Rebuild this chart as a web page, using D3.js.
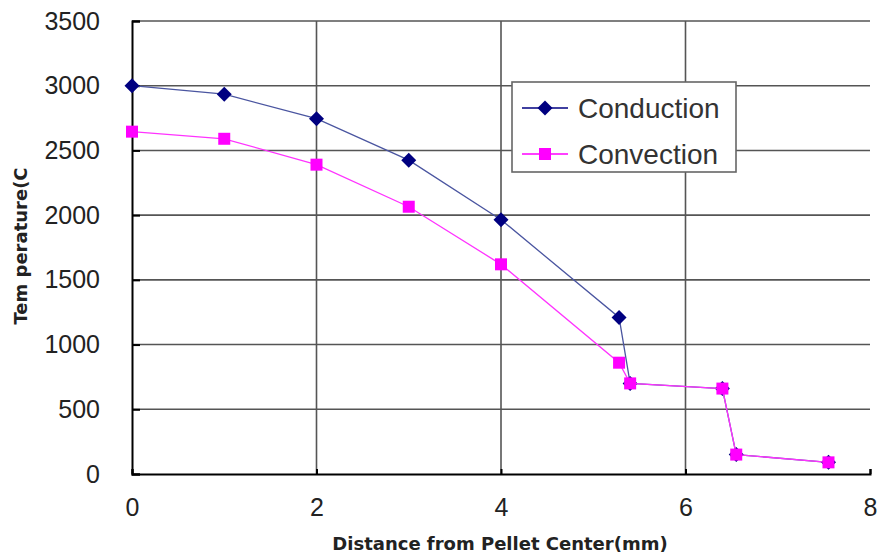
<!DOCTYPE html>
<html>
<head>
<meta charset="utf-8">
<script src="https://cdn.jsdelivr.net/npm/d3@7"></script>
<style>
  body { margin: 0; background: #fff; }
  svg { display: block; }
  .tick text { font-family: "Liberation Sans", Arial, sans-serif; font-size: 25px; fill: #222; }
  .title { font-family: "DejaVu Sans", sans-serif; font-weight: bold; font-size: 18px; fill: #222; }
  .legend text { font-family: "Liberation Sans", Arial, sans-serif; font-size: 28px; fill: #333; }
</style>
</head>
<body>
<svg id="chart" width="880" height="555"></svg>
<script>
// distances (mm)
var distance = [0, 1, 2, 3, 4, 5.28, 5.4, 6.4, 6.55, 7.55];
// temperatures
var conduction = [3000, 2935, 2745, 2425, 1965, 1210, 700, 660, 150, 90];
var convection = [2645, 2590, 2390, 2065, 1620, 860, 700, 660, 150, 90];
var seriesNames = ["Conduction", "Convection"];
var xTicks = [0, 2, 4, 6, 8];
var yTicks = [0, 500, 1000, 1500, 2000, 2500, 3000, 3500];

var margin = {top: 21, right: 10, bottom: 81, left: 132};
var width = 880 - margin.left - margin.right;
var height = 555 - margin.top - margin.bottom;

var svg = d3.select("#chart");
svg.append("rect").attr("width", 880).attr("height", 555).attr("fill", "#fff");

var g = svg.append("g")
    .attr("transform", "translate(" + margin.left + "," + margin.top + ")");

var x = d3.scaleLinear().domain([0, 8]).range([0, width]);
var y = d3.scaleLinear().domain([0, 3500]).range([height, 0]);

//grid lines
g.selectAll(".hgrid")
    .data(yTicks.filter(function(d) { return d > 0; }))
    .enter().append("line")
    .attr("x1", 0).attr("x2", width)
    .attr("y1", function(d) { return y(d); })
    .attr("y2", function(d) { return y(d); })
    .attr("stroke", "#555").attr("stroke-width", 1.6);
g.selectAll(".vgrid")
    .data(xTicks.filter(function(d) { return d > 0 && d < 8; }))
    .enter().append("line")
    .attr("y1", 0).attr("y2", height)
    .attr("x1", function(d) { return x(d); })
    .attr("x2", function(d) { return x(d); })
    .attr("stroke", "#555").attr("stroke-width", 1.6);

//axes
var yAxis = g.append("g")
    .call(d3.axisLeft(y).tickValues(yTicks).tickSize(-8).tickPadding(32).tickFormat(d3.format("d")));
var xAxis = g.append("g")
    .attr("transform", "translate(0," + height + ")")
    .call(d3.axisBottom(x).tickValues(xTicks).tickSize(-5).tickPadding(24).tickFormat(d3.format("d")));
[xAxis, yAxis].forEach(function(a) {
    a.select(".domain").attr("stroke", "#000").attr("stroke-width", 2);
    a.selectAll(".tick line").attr("stroke", "#000").attr("stroke-width", 2);
});

//lines and markers
var line = d3.line()
    .x(function(d) { return x(d[0]); })
    .y(function(d) { return y(d[1]); });

function diamond(s) { return "M0," + (-s) + "L" + s + ",0L0," + s + "L" + (-s) + ",0Z"; }
function square(s) { return "M" + (-s) + "," + (-s) + "h" + (2*s) + "v" + (2*s) + "h" + (-2*s) + "Z"; }

var series = [
    {name: seriesNames[0], values: d3.zip(distance, conduction), color: "#000080", lineColor: "#4a55a0", shape: diamond(7.5)},
    {name: seriesNames[1], values: d3.zip(distance, convection), color: "#ff00ff", lineColor: "#ff33ff", shape: square(6)}
];

series.forEach(function(s) {
    g.append("path")
        .datum(s.values)
        .attr("fill", "none")
        .attr("stroke", s.lineColor)
        .attr("stroke-width", 1.3)
        .attr("d", line);
    g.selectAll(null)
        .data(s.values)
        .enter().append("path")
        .attr("transform", function(d) { return "translate(" + x(d[0]) + "," + y(d[1]) + ")"; })
        .attr("d", s.shape)
        .attr("fill", s.color);
});

//legend
var legend = svg.append("g").attr("class", "legend").attr("transform", "translate(512,82)");
legend.append("rect")
    .attr("width", 224).attr("height", 90)
    .attr("fill", "#fff").attr("stroke", "#666").attr("stroke-width", 1.6);
series.forEach(function(s, i) {
    var ly = 26 + i * 46;
    legend.append("line")
        .attr("x1", 10).attr("x2", 56).attr("y1", ly).attr("y2", ly)
        .attr("stroke", s.color).attr("stroke-width", 1.3);
    legend.append("path")
        .attr("transform", "translate(33," + ly + ")")
        .attr("d", s.shape)
        .attr("fill", s.color);
    legend.append("text")
        .attr("x", 66).attr("y", ly + 10)
        .text(s.name);
});

//axis titles
svg.append("text")
    .attr("class", "title")
    .attr("text-anchor", "middle")
    .attr("x", 500).attr("y", 550)
    .text("Distance from Pellet Center(mm)");
svg.append("text")
    .attr("class", "title")
    .attr("text-anchor", "middle")
    .attr("transform", "translate(27,246) rotate(-90)")
    .text("Tem perature(C");
</script>
</body>
</html>
